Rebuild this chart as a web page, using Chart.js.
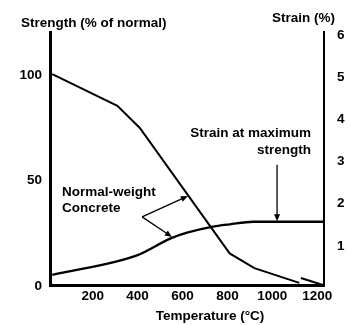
<!DOCTYPE html>
<html>
<head>
<meta charset="utf-8">
<script src="https://cdn.jsdelivr.net/npm/chart.js@4.4.0/dist/chart.umd.min.js"></script>
<style>
  html, body { margin: 0; padding: 0; background: #fff; }
</style>
</head>
<body>
<canvas id="chart" width="351" height="325"></canvas>
<script>
// values (temperature in °C)
const strengthTemps = [20, 310, 410, 810, 920, 1120];
const strengthValues = [100, 85, 74.5, 15, 8, 1];
const tailTemps = [1127, 1225];
const tailValues = [3.3, 0];
const strainTemps = [20, 400, 545, 620, 730, 810, 915, 1230];
const strainValues = [0.24, 0.71, 1.1, 1.24, 1.38, 1.44, 1.5, 1.5];
const tempTicks = [200, 400, 600, 800, 1000, 1200];
const strengthTicks = [0, 50, 100];
const strainTicks = [1, 2, 3, 4, 5, 6];

const FAMILY = '"Liberation Sans", Arial, sans-serif';
const FONT = 'bold 13.5px ' + FAMILY;
const tickFont = { family: FAMILY, size: 13.5, weight: 'bold' };

function pts(xs, ys) {
    return xs.map((x, i) => ({ x: x, y: ys[i] }));
}

function arrow(ctx, x0, y0, x1, y1) {
    const a = Math.atan2(y1 - y0, x1 - x0);
    const len = 7, half = 3;
    ctx.beginPath();
    ctx.moveTo(x0, y0);
    ctx.lineTo(x1 - Math.cos(a) * len * 0.8, y1 - Math.sin(a) * len * 0.8);
    ctx.stroke();
    ctx.beginPath();
    ctx.moveTo(x1, y1);
    ctx.lineTo(x1 - Math.cos(a) * len - Math.sin(a) * half, y1 - Math.sin(a) * len + Math.cos(a) * half);
    ctx.lineTo(x1 - Math.cos(a) * len + Math.sin(a) * half, y1 - Math.sin(a) * len - Math.cos(a) * half);
    ctx.closePath();
    ctx.fill();
}

const notes = {
    id: 'notes',
    afterDraw(chart) {
        const ctx = chart.ctx;
        const x = chart.scales.x, y = chart.scales.y;
        ctx.save();
        ctx.fillStyle = '#000';
        ctx.strokeStyle = '#000';
        ctx.font = FONT;
        ctx.textBaseline = 'middle';

        // axis titles
        ctx.textAlign = 'left';
        ctx.fillText('Strength (% of normal)', 21, 23);
        ctx.textAlign = 'right';
        ctx.fillText('Strain (%)', 335, 18);
        ctx.textAlign = 'center';
        ctx.fillText('Temperature (°C)', 210, 316);

        // labels inside the plot
        ctx.textAlign = 'left';
        ctx.fillText('Normal-weight', x.getPixelForValue(63), y.getPixelForValue(44));
        ctx.fillText('Concrete', x.getPixelForValue(63), y.getPixelForValue(36.5));
        ctx.textAlign = 'right';
        ctx.fillText('Strain at maximum', x.getPixelForValue(1172), y.getPixelForValue(72));
        ctx.fillText('strength', x.getPixelForValue(1172), y.getPixelForValue(64));

        // arrows
        ctx.lineWidth = 1.3;
        const ox = x.getPixelForValue(420), oy = y.getPixelForValue(32.3);
        arrow(ctx, ox, oy, x.getPixelForValue(624), y.getPixelForValue(42.2));
        arrow(ctx, ox, oy, x.getPixelForValue(553), y.getPixelForValue(22.8));
        arrow(ctx, x.getPixelForValue(1021), y.getPixelForValue(57), x.getPixelForValue(1021), y.getPixelForValue(30.2));
        ctx.restore();
    }
};

new Chart(document.getElementById('chart'), {
    type: 'line',
    data: {
        datasets: [
            { data: pts(strengthTemps, strengthValues), yAxisID: 'y', borderColor: '#000', borderWidth: 2, pointRadius: 0, tension: 0 },
            { data: pts(tailTemps, tailValues), yAxisID: 'y', borderColor: '#000', borderWidth: 2, pointRadius: 0, tension: 0 },
            { data: pts(strainTemps, strainValues), yAxisID: 'y1', borderColor: '#000', borderWidth: 2.3, pointRadius: 0, cubicInterpolationMode: 'monotone' }
        ]
    },
    options: {
        responsive: false,
        animation: false,
        layout: { padding: { top: 32, left: 0, right: 0, bottom: 0 } },
        plugins: { legend: { display: false }, tooltip: { enabled: false } },
        scales: {
            x: {
                type: 'linear', min: 10, max: 1230,
                grid: { display: false, drawTicks: false },
                border: { display: true, width: 3, color: '#000' },
                ticks: { color: '#000', font: tickFont, padding: 3, maxRotation: 0, callback: v => String(v) },
                afterBuildTicks: s => { s.ticks = tempTicks.map(v => ({ value: v })); },
                afterFit: s => { s.height = 40; }
            },
            y: {
                position: 'left', min: 0, max: 120,
                grid: { display: false, drawTicks: false },
                border: { display: true, width: 3, color: '#000' },
                ticks: { color: '#000', font: tickFont, padding: 8, labelOffset: 1, callback: v => String(v) },
                afterBuildTicks: s => { s.ticks = strengthTicks.map(v => ({ value: v })); },
                afterFit: s => { s.width = 50; }
            },
            y1: {
                position: 'right', min: 0, max: 6,
                grid: { display: false, drawTicks: false },
                border: { display: true, width: 2, color: '#000' },
                ticks: { color: '#000', font: tickFont, padding: 13, labelOffset: 3, callback: v => String(v) },
                afterBuildTicks: s => { s.ticks = strainTicks.map(v => ({ value: v })); },
                afterFit: s => { s.width = 27; }
            }
        }
    },
    plugins: [notes]
});
</script>
</body>
</html>
